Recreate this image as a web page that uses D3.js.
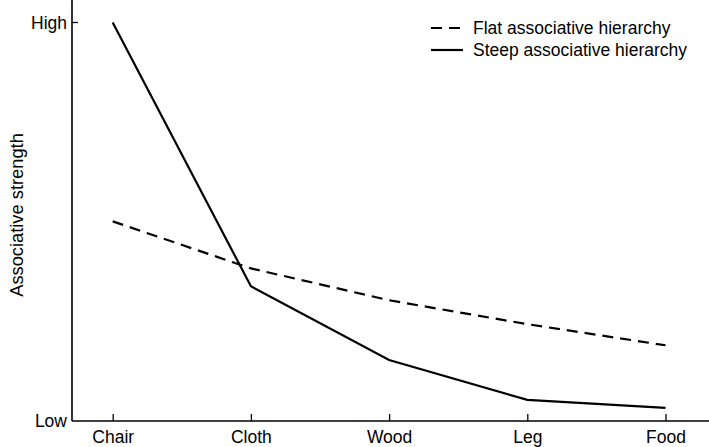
<!DOCTYPE html>
<html><head><meta charset="utf-8">
<script src="https://cdn.jsdelivr.net/npm/d3@7"></script>
<style>
html,body{margin:0;padding:0;background:#fff;}
svg{display:block;font-family:"Liberation Sans",Arial,Helvetica,sans-serif;}
</style></head>
<body>
<svg id="chart" width="709" height="447"></svg>
<script>
const categories = ["Chair","Cloth","Wood","Leg","Food"];
const flatValues = [50.1, 38.3, 30.3, 24.3, 19.0];
const steepValues = [100, 33.8, 15.3, 5.3, 3.3];
const yTickLabels = ["Low","High"];
const seriesNames = ["Flat associative hierarchy","Steep associative hierarchy"];

(function(){
const svg = d3.select("#chart");
const mLeft = 72, mRight = 709, mTop = 22.5, mBottom = 421;
const FS = 17.5;

const x = d3.scalePoint().domain(categories).range([112.7, 665.5]);
const y = d3.scaleLinear().domain([0, 100]).range([mBottom, mTop]);

// axes
svg.append("line").attr("x1", mLeft).attr("x2", mLeft).attr("y1", 0).attr("y2", mBottom)
  .attr("stroke","#000").attr("stroke-width",1.6);
svg.append("line").attr("x1", mLeft).attr("x2", mRight).attr("y1", mBottom).attr("y2", mBottom)
  .attr("stroke","#000").attr("stroke-width",1.6);

const xAxis = svg.append("g").attr("transform", `translate(0,${mBottom})`)
  .call(d3.axisBottom(x).tickSizeInner(-7).tickSizeOuter(0).tickPadding(0));
xAxis.select(".domain").remove();
xAxis.selectAll("line").attr("stroke","#000").attr("stroke-width",1.3);
xAxis.selectAll("text").attr("font-size",FS).attr("fill","#000")
  .attr("font-family","Liberation Sans, Arial, sans-serif").attr("y",22).attr("dy","0");

const yAxis = svg.append("g").attr("transform", `translate(${mLeft},0)`)
  .call(d3.axisLeft(y).tickValues([0,100]).tickFormat((d,i)=>yTickLabels[i])
     .tickSizeInner(0).tickSizeOuter(0).tickPadding(5));
yAxis.select(".domain").remove();
yAxis.selectAll("text").attr("font-size",FS).attr("fill","#000")
  .attr("font-family","Liberation Sans, Arial, sans-serif");
// High tick pointing inward
svg.append("line").attr("x1", mLeft).attr("x2", mLeft+6).attr("y1", y(100)).attr("y2", y(100))
  .attr("stroke","#000").attr("stroke-width",1.3);

svg.append("text").attr("transform", `translate(23,215) rotate(-90)`)
  .attr("text-anchor","middle").attr("font-size",18.3).text("Associative strength");

const line = d3.line().x((d,i)=>x(categories[i])).y(d=>y(d));
svg.append("path").datum(flatValues).attr("d", line).attr("fill","none")
  .attr("stroke","#000").attr("stroke-width",2.2).attr("stroke-dasharray","11,7");
svg.append("path").datum(steepValues).attr("d", line).attr("fill","none")
  .attr("stroke","#000").attr("stroke-width",2.2);

// legend
const leg = svg.append("g");
[[28,"11,7"],[50,null]].forEach(([ly,dash],i)=>{
  const l = leg.append("line").attr("x1",431).attr("x2",463).attr("y1",ly).attr("y2",ly)
    .attr("stroke","#000").attr("stroke-width",2.2);
  if (dash) l.attr("stroke-dasharray", dash);
  leg.append("text").attr("x",473).attr("y",ly).attr("dy","0.36em")
    .attr("font-size",FS).text(seriesNames[i]);
});
})();
</script>
</body></html>
